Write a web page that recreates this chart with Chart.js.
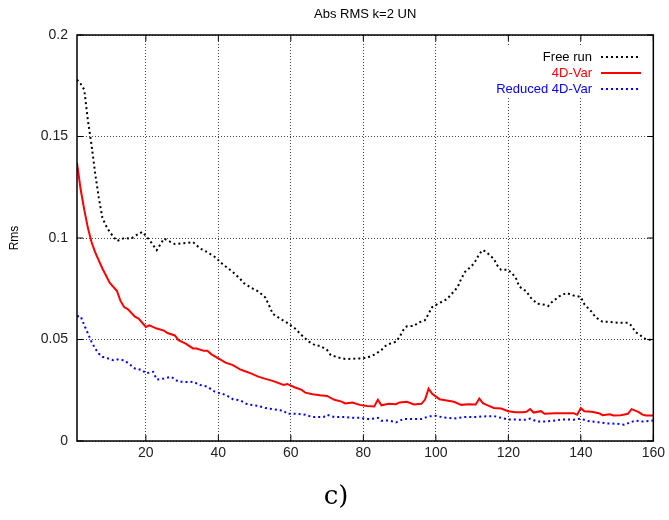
<!DOCTYPE html>
<html>
<head>
<meta charset="utf-8">
<title>Abs RMS k=2 UN</title>
<script src="https://cdn.jsdelivr.net/npm/chart.js@4.4.0/dist/chart.umd.min.js"></script>
<style>
  html, body { margin: 0; padding: 0; background: #fff; }
  #wrap { width: 669px; height: 520px; }
</style>
</head>
<body>
<div id="wrap"><canvas id="rmsChart" width="669" height="520"></canvas></div>
<script>
// values (step, rms)
const freeRunSteps = [1, 2, 3, 4, 5, 6, 7, 8, 9, 10, 12, 14, 16, 17, 19, 21, 23, 25, 28, 31, 33, 35, 37, 39, 41, 42, 44, 46, 47, 49, 51, 53, 54, 55, 57, 59, 61, 63, 65, 67, 68, 70, 71, 73, 75, 77, 79, 81, 83, 85, 86, 87, 89, 90, 91, 92, 94, 95, 97, 98, 99, 101, 103, 104, 106, 107, 108, 110, 111, 112, 113, 114, 116, 117, 118, 120, 122, 123, 125, 126, 128, 130, 131, 132, 134, 136, 138, 140, 141, 143, 144, 146, 148, 150, 153, 154, 155, 157, 158, 160];
const freeRunRms = [0.178, 0.176, 0.173, 0.158, 0.146, 0.132, 0.12, 0.11, 0.106, 0.103, 0.0985, 0.1, 0.0997, 0.101, 0.103, 0.099, 0.094, 0.0997, 0.097, 0.0975, 0.098, 0.0948, 0.093, 0.0907, 0.0874, 0.086, 0.0832, 0.0799, 0.0778, 0.0755, 0.0737, 0.0706, 0.0668, 0.0627, 0.0603, 0.0582, 0.0557, 0.0521, 0.0489, 0.0469, 0.0469, 0.0448, 0.0423, 0.0412, 0.0404, 0.0405, 0.0407, 0.041, 0.0425, 0.0448, 0.0467, 0.0477, 0.0489, 0.0513, 0.0546, 0.0565, 0.0567, 0.0582, 0.0595, 0.0627, 0.066, 0.068, 0.0698, 0.0717, 0.0758, 0.0799, 0.0832, 0.0864, 0.0889, 0.0922, 0.0941, 0.093, 0.0897, 0.0864, 0.0843, 0.0843, 0.0807, 0.0761, 0.0737, 0.0709, 0.0676, 0.0671, 0.0665, 0.0684, 0.0712, 0.0729, 0.0717, 0.0709, 0.0673, 0.0636, 0.0611, 0.0587, 0.0587, 0.0583, 0.0582, 0.0567, 0.0538, 0.0513, 0.05, 0.0498];

const varSteps = [1, 2, 3, 4, 5, 6, 7, 8, 9, 10, 12, 13, 14, 15, 17, 18, 20, 21, 23, 25, 26, 28, 29, 31, 33, 34, 36, 37, 38, 40, 42, 44, 46, 47, 49, 51, 53, 55, 58, 59, 61, 63, 64, 66, 68, 70, 72, 74, 75, 77, 79, 81, 83, 84, 85, 87, 89, 90, 92, 94, 96, 97, 98, 99, 101, 103, 105, 107, 109, 111, 112, 113, 114, 116, 118, 120, 122, 124, 125, 126, 127, 129, 130, 133, 136, 138, 139, 140, 141, 143, 145, 146, 148, 149, 151, 153, 154, 156, 157, 158, 160];
const varRms = [0.137, 0.124, 0.114, 0.105, 0.098, 0.093, 0.089, 0.085, 0.0815, 0.078, 0.074, 0.069, 0.066, 0.065, 0.0612, 0.0603, 0.0562, 0.057, 0.0554, 0.0544, 0.0532, 0.052, 0.0497, 0.048, 0.0456, 0.0456, 0.0444, 0.0444, 0.0428, 0.0407, 0.0386, 0.0374, 0.0353, 0.0346, 0.0333, 0.0317, 0.0306, 0.0296, 0.0276, 0.0281, 0.0265, 0.0252, 0.0238, 0.023, 0.0225, 0.0222, 0.0203, 0.0194, 0.0185, 0.019, 0.0178, 0.0173, 0.017, 0.0203, 0.0176, 0.0183, 0.0181, 0.019, 0.0193, 0.018, 0.0183, 0.0203, 0.0258, 0.0232, 0.0206, 0.02, 0.0193, 0.0178, 0.0181, 0.018, 0.0209, 0.0186, 0.0178, 0.0163, 0.016, 0.0147, 0.0142, 0.0142, 0.0144, 0.0157, 0.014, 0.0147, 0.0134, 0.0137, 0.0137, 0.0137, 0.0129, 0.0162, 0.0147, 0.0144, 0.0137, 0.0127, 0.0132, 0.0126, 0.0127, 0.0134, 0.0157, 0.0142, 0.013, 0.0126, 0.0126];

const reducedSteps = [1, 2, 3, 4, 5, 6, 7, 8, 9, 11, 12, 14, 15, 17, 19, 20, 22, 23, 25, 27, 29, 32, 33, 35, 37, 39, 42, 44, 46, 48, 51, 53, 55, 58, 59, 62, 64, 66, 69, 70, 72, 75, 77, 79, 81, 82, 84, 85, 87, 89, 91, 93, 96, 98, 100, 102, 105, 108, 111, 113, 116, 118, 120, 123, 125, 126, 128, 130, 133, 135, 138, 140, 142, 145, 147, 150, 152, 155, 157, 160];
const reducedRms = [0.0615, 0.0615, 0.057, 0.053, 0.0489, 0.0456, 0.0431, 0.0415, 0.041, 0.0398, 0.0402, 0.0398, 0.0385, 0.0357, 0.0349, 0.0333, 0.0341, 0.0303, 0.0308, 0.0316, 0.0292, 0.029, 0.0292, 0.0276, 0.0267, 0.0243, 0.0227, 0.0206, 0.02, 0.0181, 0.0173, 0.0162, 0.0157, 0.0149, 0.0134, 0.0134, 0.0129, 0.0118, 0.0118, 0.0129, 0.0118, 0.0118, 0.0114, 0.0114, 0.0108, 0.0108, 0.0114, 0.01, 0.0101, 0.0092, 0.0108, 0.0108, 0.0108, 0.0121, 0.0124, 0.0116, 0.0111, 0.0118, 0.0118, 0.0121, 0.0123, 0.0114, 0.0106, 0.0105, 0.0105, 0.011, 0.0096, 0.0096, 0.0101, 0.0106, 0.0105, 0.011, 0.0098, 0.0092, 0.0087, 0.0085, 0.008, 0.0101, 0.0096, 0.0101];

const xTicks = [20, 40, 60, 80, 100, 120, 140, 160];
const yTicks = [0, 0.05, 0.1, 0.15, 0.2];
const yTickLabels = ["0", "0.05", "0.1", "0.15", "0.2"];

function toPoints(xs, ys) {
    return xs.map(function (x, i) { return { x: x, y: ys[i] }; });
}

// box, titles and gnuplot-like key
const decorations = {
    id: "decorations",
    afterDraw: function (chart) {
        const ctx = chart.ctx;
        const a = chart.chartArea;
        ctx.save();

        // the key hides the grid behind it
        ctx.fillStyle = "#fff";
        ctx.fillRect(488, 47, 160, 50);

        ctx.strokeStyle = "#000";
        ctx.lineWidth = 1.5;
        ctx.strokeRect(a.left, a.top, a.right - a.left, a.bottom - a.top);

        // small inward tick marks
        ctx.lineWidth = 1;
        const xs = chart.scales.x, ys = chart.scales.y;
        xTicks.forEach(function (v) {
            const px = xs.getPixelForValue(v);
            ctx.beginPath();
            ctx.moveTo(px, a.bottom); ctx.lineTo(px, a.bottom - 6);
            ctx.moveTo(px, a.top); ctx.lineTo(px, a.top + 6);
            ctx.stroke();
        });
        yTicks.forEach(function (v) {
            const py = ys.getPixelForValue(v);
            ctx.beginPath();
            ctx.moveTo(a.left, py); ctx.lineTo(a.left + 6, py);
            ctx.moveTo(a.right, py); ctx.lineTo(a.right - 6, py);
            ctx.stroke();
        });

        ctx.fillStyle = "#000";
        ctx.font = "13px 'Liberation Sans', Arial, sans-serif";
        ctx.textAlign = "center";
        ctx.textBaseline = "middle";
        ctx.fillText("Abs RMS k=2 UN", (a.left + a.right) / 2, 14);

        ctx.save();
        ctx.font = "12px 'Liberation Sans', Arial, sans-serif";
        ctx.translate(15, (a.top + a.bottom) / 2);
        ctx.rotate(-Math.PI / 2);
        ctx.fillText("Rms", 0, 0);
        ctx.restore();

        ctx.font = "26px 'DejaVu Serif', 'Liberation Serif', serif";
        ctx.fillText("c)", 336, 497);

        // key
        ctx.font = "13px 'Liberation Sans', Arial, sans-serif";
        ctx.textAlign = "right";
        chart.data.datasets.forEach(function (ds, i) {
            const y = 57 + i * 16;
            ctx.fillStyle = ds.keyColor;
            ctx.fillText(ds.label, 592, y);
            ctx.strokeStyle = ds.borderColor;
            ctx.lineWidth = ds.borderWidth;
            ctx.setLineDash(ds.borderDash || []);
            ctx.beginPath();
            ctx.moveTo(601, y);
            ctx.lineTo(641, y);
            ctx.stroke();
        });
        ctx.restore();
    }
};

var ctxRms = document.getElementById("rmsChart").getContext("2d");
var rmsChart = new Chart(ctxRms, {
    type: "line",
    data: {
        datasets: [
            {
                label: "Free run",
                data: toPoints(freeRunSteps, freeRunRms),
                borderColor: "#000",
                keyColor: "#000",
                borderWidth: 2,
                borderDash: [2, 3],
                pointRadius: 0,
                fill: false,
            },
            {
                label: "4D-Var",
                data: toPoints(varSteps, varRms),
                borderColor: "#ff0000",
                keyColor: "#ff0000",
                borderWidth: 2,
                pointRadius: 0,
                fill: false,
            },
            {
                label: "Reduced 4D-Var",
                data: toPoints(reducedSteps, reducedRms),
                borderColor: "#0000ff",
                keyColor: "#0000ff",
                borderWidth: 2,
                borderDash: [2, 3],
                pointRadius: 0,
                fill: false,
            },
        ],
    },
    options: {
        responsive: false,
        animation: false,
        layout: { padding: { top: 35, right: 13, left: 0, bottom: 0 } },
        plugins: {
            legend: { display: false },
            tooltip: { enabled: false },
        },
        scales: {
            x: {
                type: "linear",
                min: 1,
                max: 160,
                afterBuildTicks: function (scale) {
                    scale.ticks = xTicks.map(function (v) { return { value: v }; });
                },
                afterFit: function (scale) { scale.height = 79; },
                grid: { color: "#444", lineWidth: 1, drawTicks: false },
                border: { display: false, dash: [1, 2] },
                ticks: {
                    padding: 4,
                    color: "#222",
                    font: { family: "'Liberation Sans', Arial, sans-serif", size: 14 },
                    maxRotation: 0,
                },
            },
            y: {
                min: 0,
                max: 0.2,
                afterBuildTicks: function (scale) {
                    scale.ticks = yTicks.map(function (v) { return { value: v }; });
                },
                afterFit: function (scale) { scale.width = 77; },
                grid: { color: "#444", lineWidth: 1, drawTicks: false },
                border: { display: false, dash: [1, 2] },
                ticks: {
                    padding: 9,
                    color: "#222",
                    font: { family: "'Liberation Sans', Arial, sans-serif", size: 14 },
                    callback: function (value, index) { return yTickLabels[index]; },
                },
            },
        },
    },
    plugins: [decorations],
});
</script>
</body>
</html>
